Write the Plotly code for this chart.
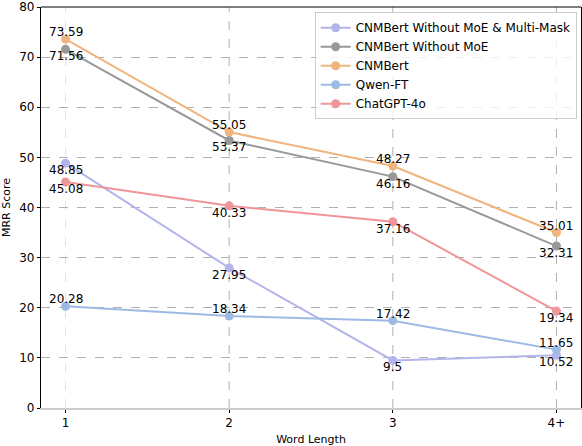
import plotly.graph_objects as go

word_length = ["1", "2", "3", "4+"]

series_names = [
    "CNMBert Without MoE & Multi-Mask",
    "CNMBert Without MoE",
    "CNMBert",
    "Qwen-FT",
    "ChatGPT-4o",
]
no_moe_no_mask = [48.85, 27.95, 9.5, 10.52]
no_moe = [71.56, 53.37, 46.16, 32.31]
cnmbert = [73.59, 55.05, 48.27, 35.01]
qwen_ft = [20.28, 18.34, 17.42, 11.65]
chatgpt_4o = [45.08, 40.33, 37.16, 19.34]

series_values = [no_moe_no_mask, no_moe, cnmbert, qwen_ft, chatgpt_4o]
colors = ["#b4b4ec", "#999999", "#f0b47e", "#9cbae4", "#f0959a"]
label_shift = [-7, -7, 7, 7, -7]

fig = go.Figure()
for name, vals, col, shift in zip(series_names, series_values, colors, label_shift):
    fig.add_trace(go.Scatter(
        x=word_length, y=vals, name=name,
        mode="lines+markers",
        line=dict(color=col, width=2),
        marker=dict(color=col, size=9),
    ))
    # category axis: annotations placed by category index
    for i, v in enumerate(vals):
        fig.add_annotation(x=i, y=v, text=str(v), showarrow=False,
                           yshift=shift, font=dict(size=12, color="black"))

# vertical dashed grid (first one lighter, as in the original)
for i in range(len(word_length)):
    fig.add_shape(type="line", xref="x", yref="paper", x0=i, x1=i, y0=0, y1=1,
                  line=dict(color="#e2e2e2" if i == 0 else "#b0b0b0", width=1, dash="dash"),
                  layer="below")

fig.add_shape(type="line", xref="paper", yref="paper", x0=0, x1=1, y0=1, y1=1,
              line=dict(color="black", width=1.2))

fig.update_layout(
    width=582, height=446,
    margin=dict(l=41, r=1, t=7, b=38),
    paper_bgcolor="white", plot_bgcolor="white",
    font=dict(family="DejaVu Sans", size=12, color="black"),
    showlegend=True,
    legend=dict(
        x=0.992, y=0.987, xanchor="right", yanchor="top",
        bgcolor="rgba(255,255,255,0.8)", bordercolor="#cccccc", borderwidth=1,
        font=dict(size=12), tracegroupgap=0, itemwidth=30,
    ),
    xaxis=dict(
        type="category", range=[-0.15, 3.15],
        showgrid=False,
        showline=True, linecolor="#cccccc", linewidth=2,
        ticks="outside", ticklen=3, tickcolor="black",
        title=dict(text="Word Length", standoff=6, font=dict(size=11)),
        zeroline=False, automargin=False,
    ),
    yaxis=dict(
        range=[0, 80.001], tickvals=[0, 10, 20, 30, 40, 50, 60, 70, 80],
        ticklabeloverflow="allow",
        showgrid=True, gridcolor="#b0b0b0", griddash="dash", gridwidth=1,
        showline=True, linecolor="black", linewidth=1.2, mirror=True,
        ticks="outside", ticklen=3, tickcolor="black",
        title=dict(text="MRR Score", standoff=7, font=dict(size=11)),
        zeroline=False, automargin=False,
    ),
)

fig.write_html("out.html", config={"displayModeBar": False},
               post_script="document.body.style.margin='0px';")
